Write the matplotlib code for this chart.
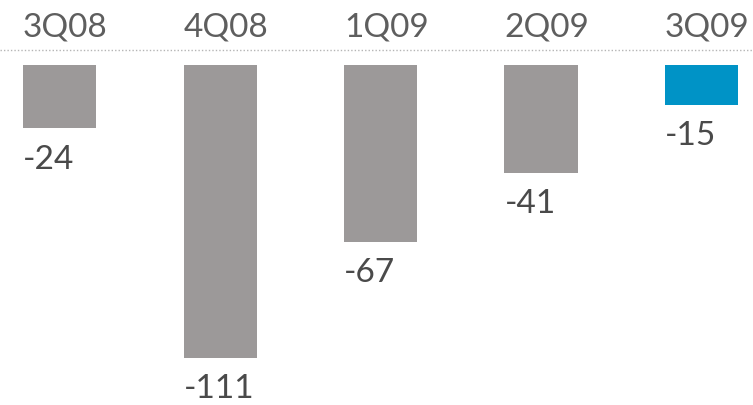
import matplotlib
matplotlib.use("Agg")
import matplotlib.pyplot as plt

categories = ["3Q08", "4Q08", "1Q09", "2Q09", "3Q09"]
values = [-24, -111, -67, -41, -15]
labels = ["-24", "-111", "-67", "-41", "-15"]
colors = ["#9c9999", "#9c9999", "#9c9999", "#9c9999", "#0093c6"]

plt.rcParams['font.family'] = ['Lato', 'DejaVu Sans']

fig = plt.figure(figsize=(7.53, 4.05), dpi=100)
ax = fig.add_axes([0, 0, 1, 1])

width = 0.455
x = list(range(len(categories)))
bars = ax.bar(x, values, width=width, color=colors, edgecolor="none", bottom=0)

ax.set_xlim(-0.371, 4.321)
ax.set_ylim(-128.8, 24.6)
ax.axis("off")

ax.axhline(5.7, color="#b5b5b5", linestyle=(0, (1, 1.5)), linewidth=1.0)

for i, (cat, v, lab) in enumerate(zip(categories, values, labels)):
    left = i - width / 2
    ax.annotate(cat, xy=(left, 0), xytext=(0, 20.5), textcoords="offset points",
                ha="left", va="baseline", fontsize=24, color="#5e5e5e")
    ax.annotate(lab, xy=(left, v), xytext=(0, -29), textcoords="offset points",
                ha="left", va="baseline", fontsize=24, color="#4a4a4a")

fig.savefig("out.png", dpi=100)
